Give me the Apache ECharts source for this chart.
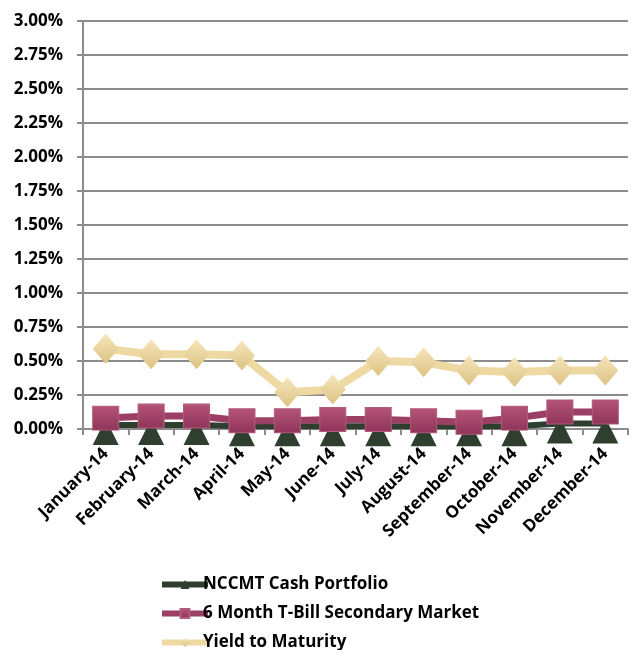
<!DOCTYPE html>
<html>
<head>
<meta charset="utf-8">
<script src="https://cdn.jsdelivr.net/npm/echarts@6/dist/echarts.min.js"></script>
<style>
  html, body { margin: 0; padding: 0; background: #fff; }
  #chart { width: 632px; height: 650px; }
</style>
</head>
<body>
<div id="chart"></div>
<script>
// 月份
var months = ['January-14', 'February-14', 'March-14', 'April-14', 'May-14', 'June-14',
  'July-14', 'August-14', 'September-14', 'October-14', 'November-14', 'December-14'];
// 收益率 (%)
var nccmt = [0.03, 0.03, 0.03, 0.02, 0.02, 0.02, 0.02, 0.02, 0.02, 0.02, 0.04, 0.04];
var tbill = [0.08, 0.095, 0.095, 0.06, 0.06, 0.07, 0.07, 0.06, 0.05, 0.08, 0.125, 0.125];
var ytm = [0.59, 0.55, 0.55, 0.54, 0.27, 0.29, 0.50, 0.49, 0.43, 0.42, 0.43, 0.43];
var yTicks = [0, 0.25, 0.5, 0.75, 1, 1.25, 1.5, 1.75, 2, 2.25, 2.5, 2.75, 3];

var font = '"Open Sans", "Noto Sans", sans-serif';
var chart = echarts.init(document.getElementById('chart'));
var option = {
  animation: false,
  grid: { left: 83, right: 4, top: 21, bottom: 221, containLabel: false },
  legend: {
    orient: 'vertical',
    left: 159,
    top: 576,
    height: 120,
    padding: 0,
    itemGap: 12,
    itemWidth: 46,
    itemHeight: 11,
    lineStyle: { width: 6 },
    textStyle: { fontFamily: font, fontWeight: 'bold', fontSize: 17, lineHeight: 17, color: '#000', padding: [0, 0, 0, -10] },
    data: ['NCCMT Cash Portfolio', '6 Month T-Bill Secondary Market', 'Yield to Maturity']
  },
  xAxis: {
    type: 'category',
    data: months,
    boundaryGap: true,
    axisLine: { lineStyle: { color: '#8c8c8c', width: 2 } },
    axisTick: { show: true, length: 6, lineStyle: { color: '#8c8c8c', width: 2 } },
    axisLabel: {
      rotate: 45, interval: 0, margin: 22,
      fontFamily: font, fontWeight: 'bold', fontSize: 17, color: '#000'
    }
  },
  yAxis: {
    type: 'value',
    min: yTicks[0],
    max: yTicks[yTicks.length - 1],
    interval: 0.25,
    axisLine: { show: true, lineStyle: { color: '#8c8c8c', width: 2 } },
    axisTick: { show: true, length: 6, lineStyle: { color: '#8c8c8c', width: 2 } },
    splitLine: { lineStyle: { color: '#8c8c8c', width: 2 } },
    axisLabel: {
      margin: 20,
      fontFamily: font, fontWeight: 'bold', fontSize: 17, color: '#000',
      formatter: function (v) { return v.toFixed(2) + '%'; }
    }
  },
  series: [
    {
      name: 'NCCMT Cash Portfolio',
      type: 'line',
      data: nccmt,
      symbol: 'triangle',
      symbolSize: [26, 26],
      symbolOffset: [0, 7],
      lineStyle: { color: '#2f3f2f', width: 6 },
      itemStyle: { color: '#2f3f2f' },
      z: 2
    },
    {
      name: '6 Month T-Bill Secondary Market',
      type: 'line',
      data: tbill,
      symbol: 'rect',
      symbolSize: [26, 24],
      lineStyle: { color: '#9c3f64', width: 7 },
      itemStyle: {
        color: new echarts.graphic.LinearGradient(0, 0, 0, 1, [
          { offset: 0, color: '#b55479' },
          { offset: 1, color: '#8e3558' }
        ]),
        borderColor: '#b45a7c', borderWidth: 1
      },
      z: 3
    },
    {
      name: 'Yield to Maturity',
      type: 'line',
      data: ytm,
      symbol: 'diamond',
      symbolSize: [26, 30],
      lineStyle: { color: '#efd9a3', width: 8 },
      itemStyle: {
        color: new echarts.graphic.LinearGradient(0, 0, 0, 1, [
          { offset: 0, color: '#f6e6bb' },
          { offset: 1, color: '#dcc283' }
        ])
      },
      z: 4
    }
  ]
};
chart.setOption(option);
</script>
</body>
</html>
